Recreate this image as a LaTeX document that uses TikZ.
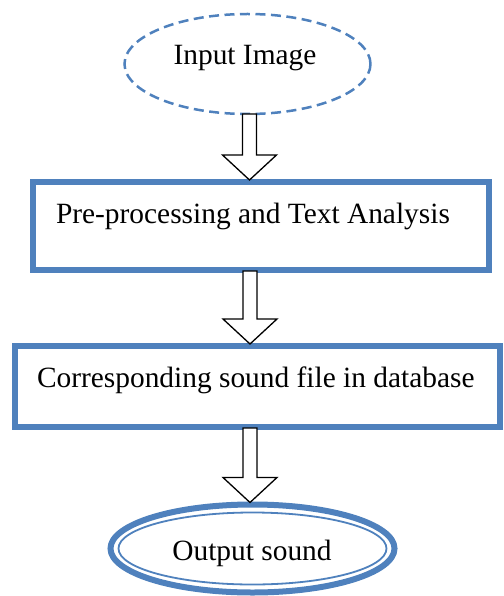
\documentclass[tikz,border=0pt]{standalone}
\usepackage{fontspec}
\setmainfont{Liberation Serif}
\usetikzlibrary{shapes.geometric,calc}

\definecolor{boxblue}{HTML}{4F81BD}

\tikzset{
  flowtext/.style={font=\fontsize{29.4}{35}\selectfont, inner sep=0pt, outer sep=0pt},
  stagebox/.style={draw=boxblue, line width=6.5pt, rectangle, inner sep=0pt, outer sep=0pt},
  startoval/.style={draw=boxblue, line width=2.5pt, ellipse, dash pattern=on 10pt off 5.5pt,
    inner sep=0pt, outer sep=0pt},
  endoval/.style={draw=boxblue, ellipse, inner sep=0pt, outer sep=0pt},
  blockarrow/.style={draw=black, fill=white, line width=1.3pt, line join=miter},
}

% hollow downward block arrow between two anchors
\newcommand{\downblock}[2]{%
  \path[blockarrow] let \p1=(#1), \p2=(#2) in
    (\x1-7pt,\y1) -- (\x1-7pt,\y2+25pt) -- (\x1-27pt,\y2+25pt) -- (\x1,\y2)
    -- (\x1+27pt,\y2+25pt) -- (\x1+7pt,\y2+25pt) -- (\x1+7pt,\y1) -- cycle;%
}

\begin{document}
\begin{tikzpicture}[x=1pt, y=-1pt]
  \useasboundingbox (0,0) rectangle (503,596);

  % start oval
  \node[startoval, minimum width=246pt, minimum height=100pt] (in) at (247.5,64) {};
  \node[flowtext, anchor=base] (intxt) at (245,65) {Input Image};

  % processing stages
  \node[stagebox, minimum width=456pt, minimum height=88pt] (pre) at (261,226) {};
  \node[flowtext, anchor=base west] (pretxt) at (56,223) {Pre-processing and Text Analysis};

  \node[stagebox, minimum width=485pt, minimum height=81pt] (db) at (257.5,386.5) {};
  \node[flowtext, anchor=base west] (dbtxt) at (37,387) {Corresponding sound file in database};

  % end oval with double outline
  \node[endoval, line width=6pt, minimum width=284pt, minimum height=88pt] (out) at (252.5,548.5) {};
  \node[endoval, line width=1.8pt, minimum width=268pt, minimum height=72pt] (outin) at (252.5,548.5) {};
  \node[flowtext, anchor=base] (outtxt) at (252,560) {Output sound};

  % connectors
  \downblock{$(in.south)+(2,0)$}{$(pre.north)+(-11.5,-2)$}
  \downblock{$(pre.south)+(-11,1)$}{$(db.north)+(-7.5,-2)$}
  \downblock{$(db.south)+(-7.5,1)$}{$(out.north)+(-3,-2)$}
\end{tikzpicture}
\end{document}
